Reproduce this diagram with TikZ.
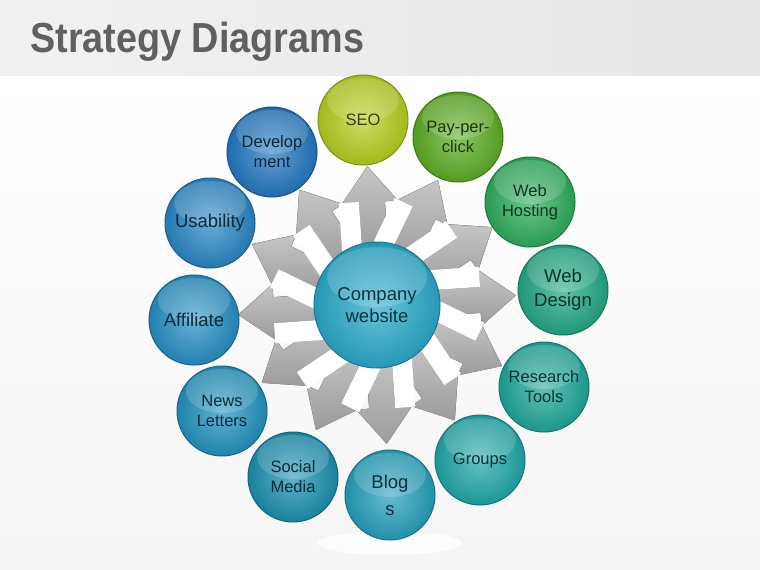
\documentclass[tikz,border=0pt]{standalone}
\usepackage{fontspec}
\setmainfont{Liberation Sans}
\newfontfamily\titlefont[FakeStretch=0.9]{Liberation Sans}
\usetikzlibrary{calc}

\definecolor{seocol}{HTML}{B6CE1E}
\definecolor{ppccol}{HTML}{5DAD24}
\definecolor{hostcol}{HTML}{2EAD5C}
\definecolor{designcol}{HTML}{22A883}
\definecolor{researchcol}{HTML}{1FA79A}
\definecolor{groupcol}{HTML}{20A7A9}
\definecolor{blogcol}{HTML}{25A0BC}
\definecolor{socialcol}{HTML}{1C90AF}
\definecolor{newscol}{HTML}{2392BF}
\definecolor{affcol}{HTML}{268FC4}
\definecolor{usecol}{HTML}{2986C4}
\definecolor{devcol}{HTML}{2378C0}
\definecolor{hubcol}{HTML}{29A9CA}

\begin{document}
\begin{tikzpicture}[x=1pt,y=1pt]
	    \tikzstyle{every node}+=[inner sep=0pt]
	    \tikzstyle{ball}=[circle, minimum size=90pt, align=center,
	      draw=#1!70!black, line width=1pt,
	      inner color=#1!70!white, outer color=#1!90!black, text=#1!30!black,
	      font=\fontsize{16.5}{20}\selectfont,
	      path picture={\fill [white, opacity=.16]
	        ($(path picture bounding box.center)+(0,20)$) ellipse (36 and 22);}]
	    \tikzstyle{bigtext}=[font=\fontsize{18.5}{24}\selectfont]
	    \tikzstyle{arrowbody}=[top color=gray!45, bottom color=gray!78, draw=gray!75, line width=.4pt]
	    \useasboundingbox (0,0) rectangle (760,-570);
	    % background and header band
	    \fill [top color=white, bottom color=gray!8] (0,-75) rectangle (760,-570);
	    \fill [left color=gray!11, right color=gray!19] (0,0) rectangle (760,-75);
	    \node [anchor=base west, text=gray!75!black, font=\titlefont\bfseries\fontsize{42}{42}\selectfont] (title) at (30,-52) {Strategy Diagrams};
	    \fill [white, opacity=.85] (390,-543) ellipse (72 and 12);
	    \coordinate (hubc) at (377,-305);
	    % gray arrows
	    \fill [arrowbody, shift={(hubc)}, rotate=4] (50,-15) -- (103,-15) -- (103,-28) -- (139,0) -- (103,28) -- (103,11) -- (50,11) -- cycle;
	    \fill [arrowbody, shift={(hubc)}, rotate=34] (50,-15) -- (103,-15) -- (103,-28) -- (139,0) -- (103,28) -- (103,11) -- (50,11) -- cycle;
	    \fill [arrowbody, shift={(hubc)}, rotate=64] (50,-15) -- (103,-15) -- (103,-28) -- (139,0) -- (103,28) -- (103,11) -- (50,11) -- cycle;
	    \fill [arrowbody, shift={(hubc)}, rotate=94] (50,-15) -- (103,-15) -- (103,-28) -- (139,0) -- (103,28) -- (103,11) -- (50,11) -- cycle;
	    \fill [arrowbody, shift={(hubc)}, rotate=124] (50,-15) -- (103,-15) -- (103,-28) -- (139,0) -- (103,28) -- (103,11) -- (50,11) -- cycle;
	    \fill [arrowbody, shift={(hubc)}, rotate=154] (50,-15) -- (103,-15) -- (103,-28) -- (139,0) -- (103,28) -- (103,11) -- (50,11) -- cycle;
	    \fill [arrowbody, shift={(hubc)}, rotate=184] (50,-15) -- (103,-15) -- (103,-28) -- (139,0) -- (103,28) -- (103,11) -- (50,11) -- cycle;
	    \fill [arrowbody, shift={(hubc)}, rotate=214] (50,-15) -- (103,-15) -- (103,-28) -- (139,0) -- (103,28) -- (103,11) -- (50,11) -- cycle;
	    \fill [arrowbody, shift={(hubc)}, rotate=244] (50,-15) -- (103,-15) -- (103,-28) -- (139,0) -- (103,28) -- (103,11) -- (50,11) -- cycle;
	    \fill [arrowbody, shift={(hubc)}, rotate=274] (50,-15) -- (103,-15) -- (103,-28) -- (139,0) -- (103,28) -- (103,11) -- (50,11) -- cycle;
	    \fill [arrowbody, shift={(hubc)}, rotate=304] (50,-15) -- (103,-15) -- (103,-28) -- (139,0) -- (103,28) -- (103,11) -- (50,11) -- cycle;
	    \fill [arrowbody, shift={(hubc)}, rotate=334] (50,-15) -- (103,-15) -- (103,-28) -- (139,0) -- (103,28) -- (103,11) -- (50,11) -- cycle;
	    % white faces on the shafts
	    \fill [white, shift={(hubc)}, rotate=4] (56,11) rectangle (104,31);
	    \fill [white, shift={(hubc)}, rotate=34] (56,11) rectangle (104,31);
	    \fill [white, shift={(hubc)}, rotate=64] (56,11) rectangle (104,31);
	    \fill [white, shift={(hubc)}, rotate=94] (56,11) rectangle (104,31);
	    \fill [white, shift={(hubc)}, rotate=124] (56,11) rectangle (104,31);
	    \fill [white, shift={(hubc)}, rotate=154] (56,11) rectangle (104,31);
	    \fill [white, shift={(hubc)}, rotate=184] (56,11) rectangle (104,31);
	    \fill [white, shift={(hubc)}, rotate=214] (56,11) rectangle (104,31);
	    \fill [white, shift={(hubc)}, rotate=244] (56,11) rectangle (104,31);
	    \fill [white, shift={(hubc)}, rotate=274] (56,11) rectangle (104,31);
	    \fill [white, shift={(hubc)}, rotate=304] (56,11) rectangle (104,31);
	    \fill [white, shift={(hubc)}, rotate=334] (56,11) rectangle (104,31);
	    % hub
	    \node [ball=hubcol, minimum size=126pt, font=\fontsize{18.5}{22}\selectfont,
	      path picture={\fill [white, opacity=.16] ($(path picture bounding box.center)+(0,28)$) ellipse (50 and 30);}]
	      (hub) at (hubc) {Company\\website};
	    % outer balls
	    \node [ball=seocol] (seo) at (363,-120) {SEO};
	    \node [ball=ppccol] (ppc) at (458,-137) {Pay-per-\\click};
	    \node [ball=hostcol] (hosting) at (530,-202) {Web\\Hosting};
	    \node [ball=designcol, bigtext] (design) at (563,-290) {Web\\Design};
	    \node [ball=researchcol] (research) at (544,-387) {Research\\Tools};
	    \node [ball=groupcol] (groups) at (480,-460) {Groups};
	    \node [ball=blogcol, bigtext] (blogs) at (390,-495) {Blog\\[3pt]s};
	    \node [ball=socialcol] (social) at (293,-477) {Social\\Media};
	    \node [ball=newscol] (news) at (222,-411) {News\\Letters};
	    \node [ball=affcol, bigtext] (affiliate) at (194,-320) {Affiliate};
	    \node [ball=usecol, bigtext] (usability) at (210,-223) {Usability};
	    \node [ball=devcol] (dev) at (272,-152) {Develop\\ment};
\end{tikzpicture}
\end{document}
